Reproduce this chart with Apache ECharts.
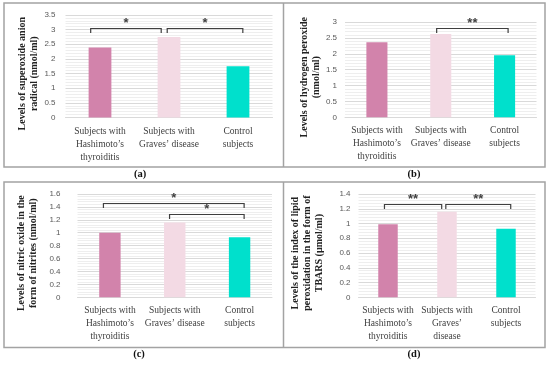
<!DOCTYPE html>
<html>
<head>
<meta charset="utf-8">
<script src="https://cdn.jsdelivr.net/npm/echarts@6/dist/echarts.min.js"></script>
<style>
html,body{margin:0;padding:0;background:#fff;}
#main{width:550px;height:365px;}
</style>
</head>
<body>
<div id="main"></div>
<script>
// ---- data ----
const categories = ["Subjects with\nHashimoto\u2019s\nthyroiditis", "Subjects with\nGraves\u2019 disease", "Control\nsubjects"];
const categoriesD = ["Subjects with\nHashimoto\u2019s\nthyroiditis", "Subjects with\nGraves\u2019\ndisease", "Control\nsubjects"];
const superoxide = [2.39, 2.75, 1.75];
const hydrogenPeroxide = [2.37, 2.63, 1.96];
const nitricOxide = [1.0, 1.16, 0.93];
const tbars = [0.99, 1.16, 0.93];
const barColors = ['#d283ab', '#f3dae4', '#00e0cc'];
// significance brackets: [from category pos, to category pos, level value, label]
const bracketsA = [[-0.135, 0.887, 3.06, '*'], [0.974, 2.07, 3.06, '*']];
const bracketsB = [[0.936, 2.055, 2.82, '**']];
const bracketsC = [[-0.10, 2.07, 1.46, '*'], [0.92, 2.07, 1.285, '*']];
const bracketsD = [[-0.06, 0.91, 1.264, '**'], [0.98, 2.08, 1.264, '**']];
const titleA = "Levels of superoxide anion\nradical (nmol/ml)";
const titleB = "Levels of hydrogen peroxide\n(nmol/ml)";
const titleC = "Levels of nitric oxide in the\nform of nitrites (nmol/ml)";
const titleD = "Levels of the index of lipid\nperoxidation in the form of\nTBARS (\u00b5mol/ml)";

const serif = '"Liberation Serif", "DejaVu Serif", serif';
const sans = '"Liberation Sans", Arial, sans-serif';

const chart = echarts.init(document.getElementById('main'), null, {renderer: 'canvas'});

const panels = [
  {grid: {left: 65.5, top: 13.5, width: 207, height: 104}, cats: categories, vals: superoxide, br: bracketsA, max: 3.5, interval: 0.5, title: titleA, nameGap: 22, margin: 10},
  {grid: {left: 345, top: 13.3, width: 191.5, height: 104}, cats: categories, vals: hydrogenPeroxide, br: bracketsB, max: 3, interval: 0.5, title: titleB, nameGap: 22, margin: 8},
  {grid: {left: 77.5, top: 194, width: 194.5, height: 103.3}, cats: categories, vals: nitricOxide, br: bracketsC, max: 1.6, interval: 0.2, title: titleC, nameGap: 38, margin: 17},
  {grid: {left: 358.5, top: 194, width: 177, height: 103.3}, cats: categoriesD, vals: tbars, br: bracketsD, max: 1.4, interval: 0.2, title: titleD, nameGap: 33, margin: 8}
];

function bracketRenderer(list) {
  return function (params, api) {
    const b = list[params.dataIndex];
    const v = api.value(1);
    const p0 = api.coord([0, v]);
    const p1 = api.coord([1, v]);
    const band = p1[0] - p0[0];
    const x1 = p0[0] + b[0] * band;
    const x2 = p0[0] + b[1] * band;
    const y = Math.round(p0[1]) + 0.5;
    return {
      type: 'group',
      children: [
        {type: 'polyline', shape: {points: [[x1, y + 4.5], [x1, y], [x2, y], [x2, y + 4.5]]},
         style: {stroke: '#3f3f3f', lineWidth: 1.2, fill: null}},
        {type: 'text', x: (x1 + x2) / 2, y: y + 1,
         style: {text: b[3], textAlign: 'center', textVerticalAlign: 'bottom', fontSize: 13, fontWeight: 'bold', fontFamily: sans, fill: '#3f3f3f'}}
      ]
    };
  };
}

const option = {
  animation: false,
  backgroundColor: '#fff',
  grid: panels.map(p => Object.assign({containLabel: false}, p.grid)),
  xAxis: panels.map((p, i) => ({
    type: 'category', gridIndex: i, data: p.cats,
    axisTick: {show: false},
    axisLine: {lineStyle: {color: '#d9d9d9'}},
    axisLabel: {interval: 0, margin: 7, fontFamily: serif, fontSize: 9.5, lineHeight: 13, color: '#404040'}
  })),
  yAxis: panels.map((p, i) => ({
    type: 'value', gridIndex: i, min: 0, max: p.max, interval: p.interval,
    axisLine: {show: false}, axisTick: {show: false},
    axisLabel: {margin: p.margin, fontFamily: sans, fontSize: 8, color: '#595959'},
    splitLine: {lineStyle: {color: '#d9d9d9', width: 1}},
    minorTick: {show: false, splitNumber: 5},
    minorSplitLine: {show: true, lineStyle: {color: '#eeeeee', width: 1}},
    name: p.title, nameLocation: 'middle', nameRotate: 90, nameGap: p.nameGap,
    nameTextStyle: {fontFamily: serif, fontSize: 10, fontWeight: 'bold', color: '#222', lineHeight: 12, align: 'center', padding: [0, 15, 0, 0]}
  })),
  series: [].concat(
    panels.map((p, i) => ({
      type: 'bar', xAxisIndex: i, yAxisIndex: i, barWidth: '33%',
      data: p.vals.map((v, k) => ({value: v, itemStyle: {color: barColors[k]}}))
    })),
    panels.map((p, i) => ({
      type: 'custom', xAxisIndex: i, yAxisIndex: i, silent: true, z: 5,
      encode: {x: 0, y: 1},
      data: p.br.map(b => [0, b[2]]),
      renderItem: bracketRenderer(p.br)
    }))
  ),
  graphic: [
    {type: 'rect', shape: {x: 4, y: 3, width: 541, height: 164}, style: {stroke: '#a3a3a3', lineWidth: 1.5, fill: null}},
    {type: 'line', shape: {x1: 283.5, y1: 3, x2: 283.5, y2: 167}, style: {stroke: '#a3a3a3', lineWidth: 1.5}},
    {type: 'rect', shape: {x: 4, y: 182, width: 541, height: 165.5}, style: {stroke: '#a3a3a3', lineWidth: 1.5, fill: null}},
    {type: 'line', shape: {x1: 283.5, y1: 182, x2: 283.5, y2: 347.5}, style: {stroke: '#a3a3a3', lineWidth: 1.5}},
    {type: 'text', x: 140, y: 174, style: {text: '(a)', textAlign: 'center', textVerticalAlign: 'middle', fontFamily: serif, fontSize: 10.5, fontWeight: 'bold', fill: '#111'}},
    {type: 'text', x: 414, y: 174, style: {text: '(b)', textAlign: 'center', textVerticalAlign: 'middle', fontFamily: serif, fontSize: 10.5, fontWeight: 'bold', fill: '#111'}},
    {type: 'text', x: 139, y: 354.5, style: {text: '(c)', textAlign: 'center', textVerticalAlign: 'middle', fontFamily: serif, fontSize: 10.5, fontWeight: 'bold', fill: '#111'}},
    {type: 'text', x: 414, y: 354.5, style: {text: '(d)', textAlign: 'center', textVerticalAlign: 'middle', fontFamily: serif, fontSize: 10.5, fontWeight: 'bold', fill: '#111'}}
  ]
};
chart.setOption(option);
</script>
</body>
</html>
